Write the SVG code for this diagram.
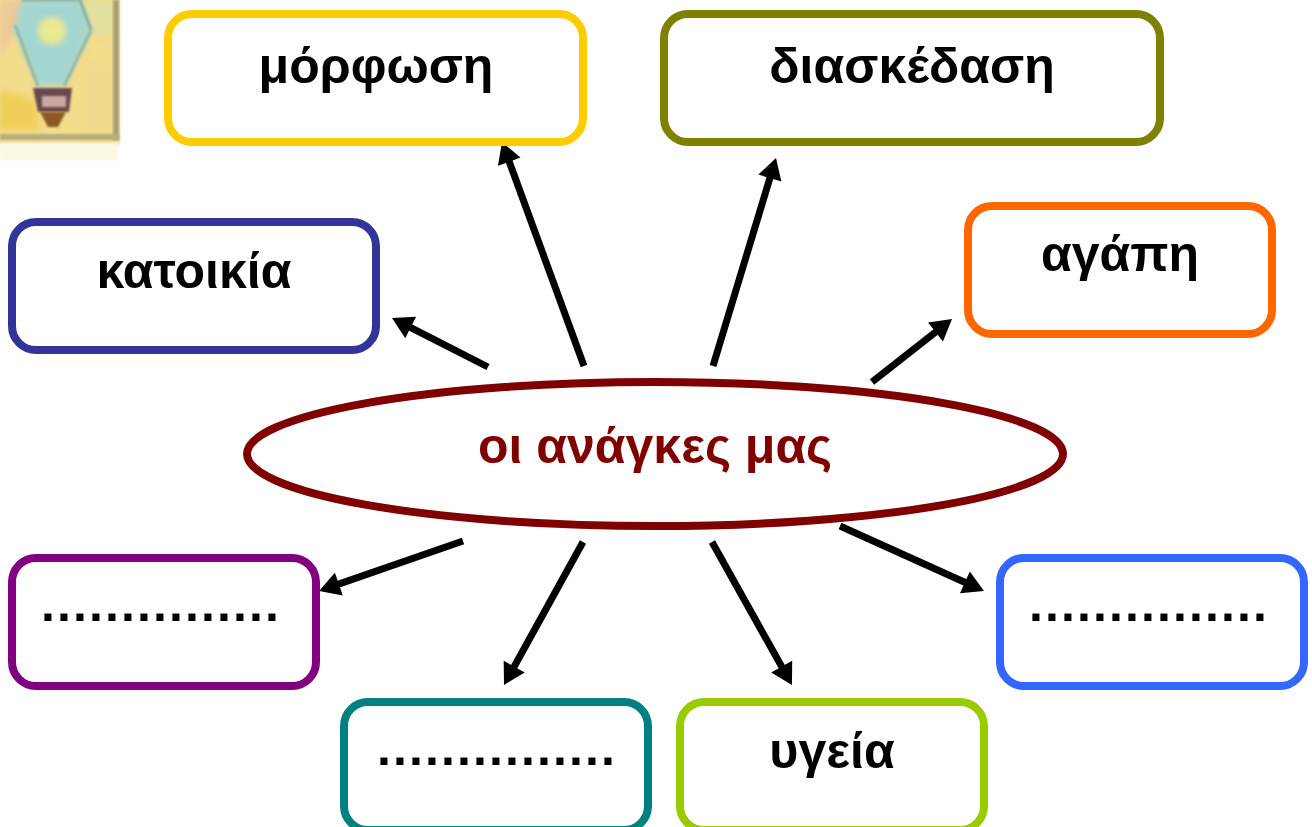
<svg xmlns="http://www.w3.org/2000/svg" width="1312" height="827" viewBox="0 0 1312 827">
<style>
.box{fill:#fff;stroke-width:8}
.t{font-family:"Liberation Sans",Arial,sans-serif;font-weight:700;font-size:50px;text-anchor:middle;fill:#000}
.d{letter-spacing:2.1px}
.c line{stroke:#000;stroke-width:7;marker-end:url(#a)}
</style>
<defs>
<marker id="a" markerUnits="userSpaceOnUse" markerWidth="30" markerHeight="30" refX="0" refY="0" orient="auto" overflow="visible" viewBox="-5 -15 30 30"><path d="M20,0L-1,-12L-1,12Z" fill="#000"/></marker>
<filter id="b" x="-10%" y="-10%" width="120%" height="120%"><feGaussianBlur stdDeviation="3"/></filter>
<filter id="b2" x="-10%" y="-10%" width="120%" height="120%"><feGaussianBlur stdDeviation="1.2"/></filter>
<clipPath id="cp"><rect x="0" y="0" width="135" height="165"/></clipPath>
</defs>
<rect width="1312" height="827" fill="#fff"/>
<g id="bulb" clip-path="url(#cp)">
<rect x="-6" y="-6" width="126" height="150" fill="#f3dc8a" filter="url(#b2)"/>
<rect x="0" y="143" width="118" height="17" fill="#fbf8e4" filter="url(#b2)"/>
<path d="M0,0H30L10,40L0,60Z" fill="#eec99a" filter="url(#b)"/>
<path d="M85,0H116V30L95,40Z" fill="#e2e0a0" filter="url(#b)"/>
<path d="M0,90L35,100L40,130H0Z" fill="#efcf5a" filter="url(#b)"/>
<path d="M85,60L116,70V130H85Z" fill="#f3d98e" filter="url(#b)"/>
<rect x="113" y="0" width="6" height="140" fill="#a8a070" filter="url(#b2)"/>
<rect x="0" y="134" width="119" height="6" fill="#b3ad80" filter="url(#b2)"/>
<path d="M22,0H80L91,30L64,86H38L14,30Z" fill="#a3d6d2" filter="url(#b)"/>
<path d="M22,0H80L91,30" fill="none" stroke="#7fb0ae" stroke-width="3" filter="url(#b2)"/>
<path d="M15,25L38,86M91,30L64,86" fill="none" stroke="#8fb8a8" stroke-width="3" filter="url(#b2)"/>
<ellipse cx="52" cy="31" rx="14" ry="14" fill="#ece98e" filter="url(#b)"/>
<path d="M33,88H72L69,112H38Z" fill="#6b4a4e" filter="url(#b2)"/>
<rect x="42" y="96" width="24" height="11" fill="#c8a8a0" filter="url(#b2)"/>
<path d="M40,112H66L58,127H48Z" fill="#8a5a20" filter="url(#b2)"/>
</g>
<g id="connectors" class="c">
<line x1="584" y1="366" x2="508.9" y2="160.8"/>
<line x1="713" y1="366" x2="770.2" y2="177.1"/>
<line x1="872" y1="382" x2="936.3" y2="331.4"/>
<line x1="488" y1="367" x2="409.8" y2="327.1"/>
<line x1="463" y1="541" x2="337.9" y2="584.4"/>
<line x1="583" y1="542" x2="513.7" y2="667.5"/>
<line x1="712" y1="542" x2="782.2" y2="667.5"/>
<line x1="840" y1="526" x2="965.8" y2="582.8"/>
</g>
<g id="morfosi"><rect class="box" x="168" y="14" width="415" height="128" rx="24" stroke="#FFCC00"/><text class="t" x="376" y="83">μόρφωση</text></g>
<g id="diaskedasi"><rect class="box" x="664" y="14" width="496" height="128" rx="24" stroke="#808000"/><text class="t" x="912" y="83">διασκέδαση</text></g>
<g id="agapi"><rect class="box" x="968" y="206" width="304" height="128" rx="24" stroke="#FF6600"/><text class="t" x="1120" y="271">αγάπη</text></g>
<g id="katoikia"><rect class="box" x="12" y="222" width="364" height="128" rx="24" stroke="#333399"/><text class="t" x="194" y="288">κατοικία</text></g>
<g id="center"><ellipse cx="655" cy="454" rx="408" ry="72" fill="#fff" stroke="#800000" stroke-width="8"/><text class="t" x="655" y="463" style="fill:#800000">οι ανάγκες μας</text></g>
<g id="left-blank"><rect class="box" x="12" y="558" width="304" height="128" rx="24" stroke="#800080"/><text class="t d" x="161" y="621">...............</text></g>
<g id="right-blank"><rect class="box" x="1000" y="558" width="304" height="128" rx="24" stroke="#3366FF"/><text class="t d" x="1149" y="621">...............</text></g>
<g id="bottom-blank"><rect class="box" x="344" y="702" width="304" height="128" rx="24" stroke="#008080"/><text class="t d" x="497" y="765">...............</text></g>
<g id="ygeia"><rect class="box" x="680" y="702" width="304" height="128" rx="24" stroke="#99CC00"/><text class="t" x="832" y="768">υγεία</text></g>
</svg>
